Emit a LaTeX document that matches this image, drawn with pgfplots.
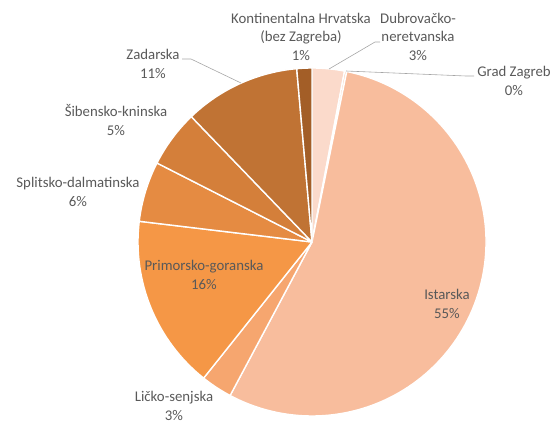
\documentclass[border=0pt]{standalone}
\usepackage{pgfplots}
\pgfplotsset{compat=1.18}
\usepackage{fontspec}
\setmainfont{Carlito}
\definecolor{txt}{HTML}{595959}
\definecolor{lead}{HTML}{A6A6A6}
\definecolor{cDub}{HTML}{FBDACB}
\definecolor{cGZ}{HTML}{F9CAB0}
\definecolor{cIst}{HTML}{F8BD9D}
\definecolor{cLic}{HTML}{F6A66F}
\definecolor{cPri}{HTML}{F59746}
\definecolor{cSpl}{HTML}{E58B42}
\definecolor{cSib}{HTML}{D47F3A}
\definecolor{cZad}{HTML}{C07334}
\definecolor{cKon}{HTML}{A35E27}
% slice: start (percent, cumulative), value (percent), colour
\newcommand\pieslice[3]{%
  \fill[#3, draw=white, line width=1.4pt, line join=round]
    (axis cs:312,184) -- ++({90-3.6*#1}:174pt)
    arc[start angle={90-3.6*#1}, delta angle={-3.6*#2}, radius=174pt] -- cycle;}
\begin{document}
\begin{tikzpicture}
\path[use as bounding box] (0,0) rectangle (553pt,426pt);
\begin{axis}[x=1pt, y=1pt, xmin=0, xmax=553, ymin=0, ymax=426,
  at={(0,0)}, anchor=south west, hide axis, clip=false,
  nodes={font=\fontsize{14.8}{18.5}\selectfont, text=txt, align=center}]
% values (percent)
\pieslice{0}{3.0}{cDub}
\pieslice{3.0}{0.2}{cGZ}
\pieslice{3.2}{54.6}{cIst}
\pieslice{57.8}{2.9}{cLic}
\pieslice{60.7}{16.2}{cPri}
\pieslice{76.9}{5.6}{cSpl}
\pieslice{82.5}{5.3}{cSib}
\pieslice{87.8}{10.8}{cZad}
\pieslice{98.6}{1.4}{cKon}
% leader lines
\draw[lead, line width=0.6pt] (axis cs:182,367) -- (axis cs:191,367) -- (axis cs:241,343);
\draw[lead, line width=0.6pt] (axis cs:380,384) -- (axis cs:375,384) -- (axis cs:329,357);
\draw[lead, line width=0.6pt] (axis cs:346,355) -- (axis cs:466,350) -- (axis cs:474,350);
% labels
\node at (axis cs:301,389.5) {Kontinentalna Hrvatska\\(bez Zagreba)\\1\%};
\node at (axis cs:418,389.5) {Dubrovačko-\\neretvanska\\3\%};
\node at (axis cs:514,345) {Grad Zagreb\\0\%};
\node at (axis cs:153,362) {Zadarska\\11\%};
\node at (axis cs:116,306) {Šibensko-kninska\\5\%};
\node at (axis cs:78,234) {Splitsko-dalmatinska\\6\%};
\node at (axis cs:204,151) {Primorsko-goranska\\16\%};
\node at (axis cs:174,20) {Ličko-senjska\\3\%};
\node at (axis cs:447,122) {Istarska\\55\%};
\end{axis}
\end{tikzpicture}
\end{document}
